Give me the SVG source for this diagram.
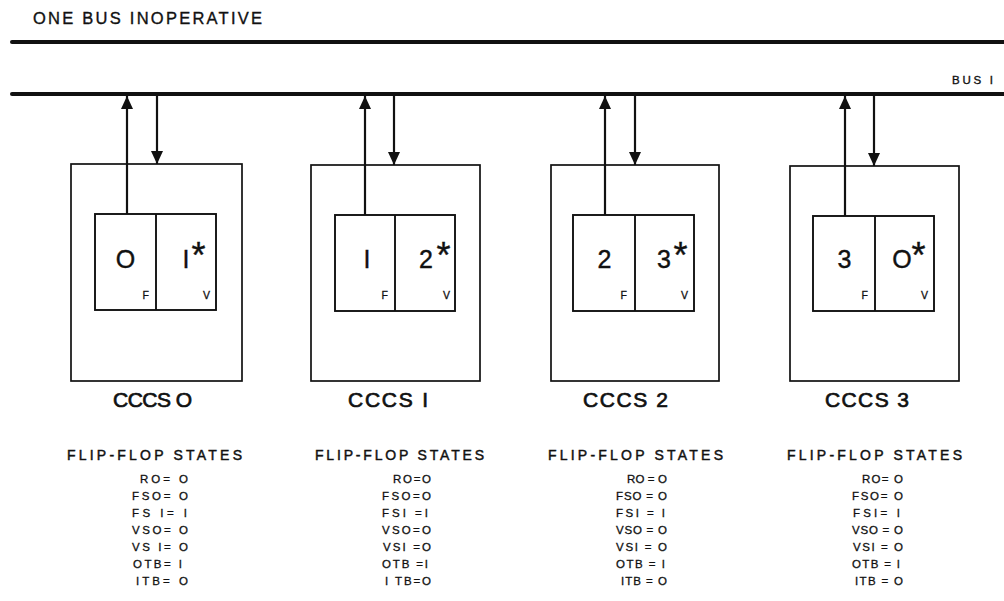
<svg xmlns="http://www.w3.org/2000/svg" width="1004" height="601" viewBox="0 0 1004 601">
<style>
text{font-family:"Liberation Sans",Arial,sans-serif;fill:#111;stroke:#111;stroke-width:0.35}
.bus{stroke:#111;stroke-width:4;stroke-linecap:round;fill:none}
.outer{fill:none;stroke:#111;stroke-width:1.7}
.inner{fill:none;stroke:#111;stroke-width:1.9}
.wire{stroke:#111;stroke-width:2.2;fill:none}
.up{marker-end:url(#ah)}
.dn{marker-end:url(#ah)}
.dig{font-size:25px;text-anchor:middle;stroke-width:0.4}
.ast{font-size:36px;stroke-width:0.4}
.fv{font-size:10.5px;text-anchor:end;stroke-width:0.3}
.lbl{font-size:21px;stroke-width:0.7}
.ffs{font-size:14px;stroke-width:0.45}
.st{font-size:11.5px;stroke-width:0.3}
</style>
<defs>
<marker id="ah" markerUnits="userSpaceOnUse" markerWidth="13" markerHeight="12" refX="13" refY="6" orient="auto" viewBox="0 0 13 12">
<path d="M0,0 L13,6 L0,12 z" fill="#111"/>
</marker>
</defs>
<text x="33" y="24" font-size="16.5" textLength="229" lengthAdjust="spacing">ONE BUS INOPERATIVE</text>
<g id="buses">
<line class="bus" x1="12" y1="42" x2="1004" y2="42"/>
<line class="bus" x1="12" y1="94" x2="1004" y2="94"/>
<text x="952" y="84" font-size="11.5" textLength="41" lengthAdjust="spacing">BUS I</text>
</g>
<g id="connectors">
<line class="wire up" x1="127" y1="214" x2="127" y2="96"/>
<line class="wire dn" x1="157" y1="96" x2="157" y2="164"/>
<line class="wire up" x1="365" y1="215" x2="365" y2="96"/>
<line class="wire dn" x1="394" y1="96" x2="394" y2="165"/>
<line class="wire up" x1="605" y1="215" x2="605" y2="96"/>
<line class="wire dn" x1="635" y1="96" x2="635" y2="165"/>
<line class="wire up" x1="845" y1="216" x2="845" y2="96"/>
<line class="wire dn" x1="874" y1="96" x2="874" y2="166"/>
</g>
<g id="cccs0">
<rect class="outer" x="71" y="164" width="171" height="217"/>
<rect class="inner" x="95" y="214" width="121" height="96"/>
<line class="inner" x1="156" y1="214" x2="156" y2="310"/>
<text class="dig" x="125.5" y="268">O</text>
<text y="268"><tspan class="dig" x="186">I</tspan><tspan class="ast" x="191.5">*</tspan></text>
<text class="fv" x="149" y="299">F</text>
<text class="fv" x="210" y="299">V</text>
<text class="lbl" x="113" y="407" textLength="79" lengthAdjust="spacing">CCCS O</text>
<text class="ffs" x="67" y="460" textLength="175" lengthAdjust="spacing">FLIP-FLOP  STATES</text>
<text class="st" x="140" y="483" textLength="48" lengthAdjust="spacing">RO= O</text>
<text class="st" x="132" y="500" textLength="56" lengthAdjust="spacing">FSO= O</text>
<text class="st" x="132" y="517" textLength="55" lengthAdjust="spacing">FS I= I</text>
<text class="st" x="132" y="534" textLength="56" lengthAdjust="spacing">VSO= O</text>
<text class="st" x="132" y="551" textLength="56" lengthAdjust="spacing">VS I= O</text>
<text class="st" x="133" y="568" textLength="49" lengthAdjust="spacing">OTB= I</text>
<text class="st" x="136" y="585" textLength="52" lengthAdjust="spacing">ITB= O</text>
</g>
<g id="cccs1">
<rect class="outer" x="311" y="165" width="169" height="216"/>
<rect class="inner" x="335" y="215" width="120" height="96"/>
<line class="inner" x1="395" y1="215" x2="395" y2="311"/>
<text class="dig" x="367" y="268">I</text>
<text y="268"><tspan class="dig" x="426">2</tspan><tspan class="ast" x="436.5">*</tspan></text>
<text class="fv" x="388" y="299">F</text>
<text class="fv" x="450" y="299">V</text>
<text class="lbl" x="348" y="407" textLength="80" lengthAdjust="spacing">CCCS I</text>
<text class="ffs" x="315" y="460" textLength="169" lengthAdjust="spacing">FLIP-FLOP  STATES</text>
<text class="st" x="393" y="483" textLength="38" lengthAdjust="spacing">RO=O</text>
<text class="st" x="382" y="500" textLength="49" lengthAdjust="spacing">FSO=O</text>
<text class="st" x="382" y="517" textLength="46" lengthAdjust="spacing">FSI =I</text>
<text class="st" x="382" y="534" textLength="49" lengthAdjust="spacing">VSO=O</text>
<text class="st" x="383" y="551" textLength="48" lengthAdjust="spacing">VSI =O</text>
<text class="st" x="382" y="568" textLength="46" lengthAdjust="spacing">OTB =I</text>
<text class="st" x="385" y="585" textLength="46" lengthAdjust="spacing">I TB=O</text>
</g>
<g id="cccs2">
<rect class="outer" x="551" y="165" width="168" height="216"/>
<rect class="inner" x="573" y="215" width="121" height="96"/>
<line class="inner" x1="635" y1="215" x2="635" y2="311"/>
<text class="dig" x="604.5" y="268">2</text>
<text y="268"><tspan class="dig" x="664">3</tspan><tspan class="ast" x="673.5">*</tspan></text>
<text class="fv" x="627" y="299">F</text>
<text class="fv" x="688" y="299">V</text>
<text class="lbl" x="583" y="407" textLength="85" lengthAdjust="spacing">CCCS 2</text>
<text class="ffs" x="548" y="460" textLength="175" lengthAdjust="spacing">FLIP-FLOP  STATES</text>
<text class="st" x="627" y="483" textLength="40" lengthAdjust="spacing">RO = O</text>
<text class="st" x="616" y="500" textLength="51" lengthAdjust="spacing">FSO = O</text>
<text class="st" x="616" y="517" textLength="49" lengthAdjust="spacing">FSI = I</text>
<text class="st" x="616" y="534" textLength="51" lengthAdjust="spacing">VSO = O</text>
<text class="st" x="616" y="551" textLength="51" lengthAdjust="spacing">VSI = O</text>
<text class="st" x="616" y="568" textLength="49" lengthAdjust="spacing">OTB = I</text>
<text class="st" x="621" y="585" textLength="46" lengthAdjust="spacing">ITB = O</text>
</g>
<g id="cccs3">
<rect class="outer" x="790" y="166" width="169" height="215"/>
<rect class="inner" x="813" y="216" width="121" height="95"/>
<line class="inner" x1="875" y1="216" x2="875" y2="311"/>
<text class="dig" x="844.5" y="268">3</text>
<text y="268"><tspan class="dig" x="902">O</tspan><tspan class="ast" x="911.5">*</tspan></text>
<text class="fv" x="868" y="299">F</text>
<text class="fv" x="928" y="299">V</text>
<text class="lbl" x="825" y="407" textLength="84" lengthAdjust="spacing">CCCS 3</text>
<text class="ffs" x="787" y="460" textLength="175" lengthAdjust="spacing">FLIP-FLOP  STATES</text>
<text class="st" x="862" y="483" textLength="41" lengthAdjust="spacing">RO= O</text>
<text class="st" x="852" y="500" textLength="51" lengthAdjust="spacing">FSO= O</text>
<text class="st" x="853" y="517" textLength="47" lengthAdjust="spacing">FSI= I</text>
<text class="st" x="852" y="534" textLength="51" lengthAdjust="spacing">VSO = O</text>
<text class="st" x="853" y="551" textLength="50" lengthAdjust="spacing">VSI = O</text>
<text class="st" x="852" y="568" textLength="48" lengthAdjust="spacing">OTB = I</text>
<text class="st" x="855" y="585" textLength="48" lengthAdjust="spacing">ITB = O</text>
</g>
</svg>
